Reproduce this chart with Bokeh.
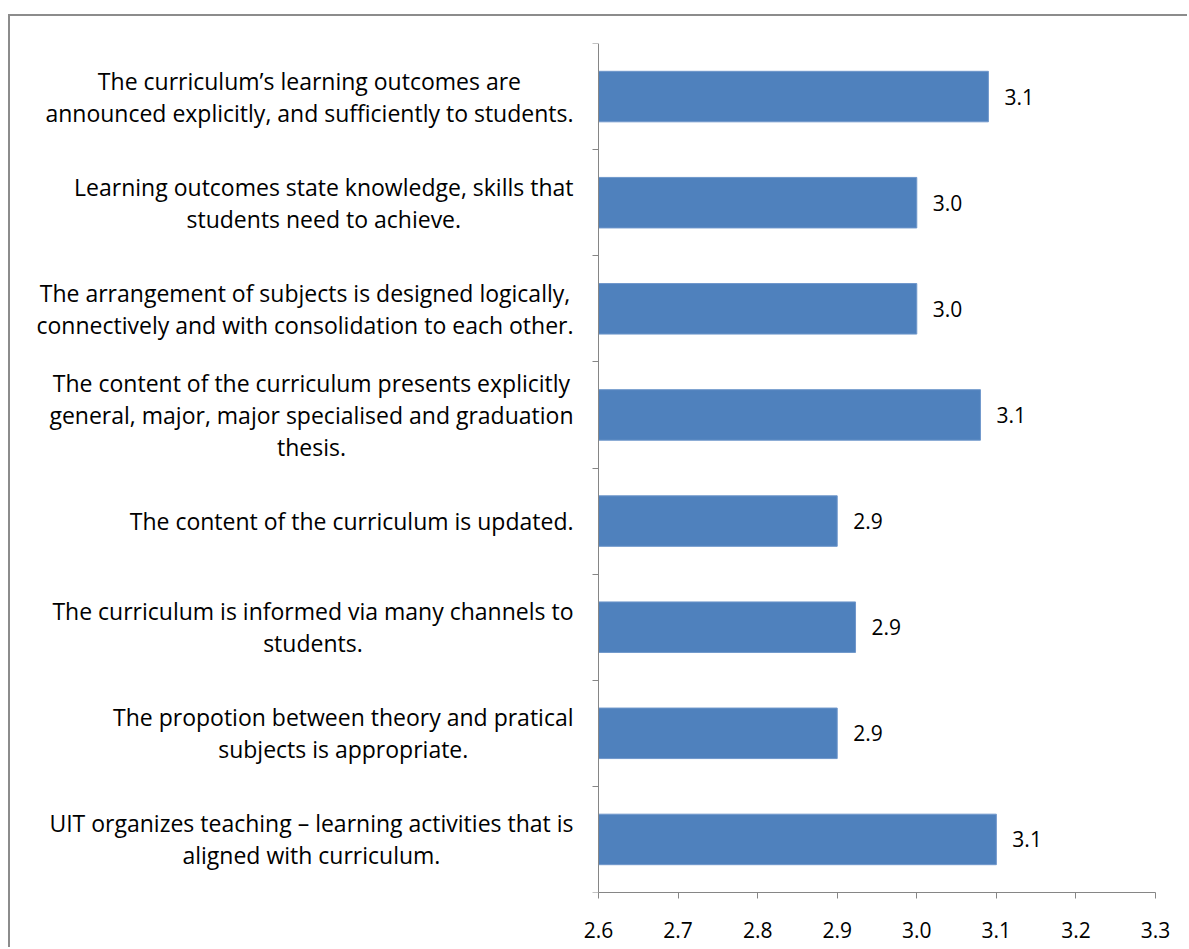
from bokeh.plotting import figure
from bokeh.models import Range1d, FixedTicker, ColumnDataSource, NumeralTickFormatter, LinearAxis
from bokeh.core.properties import value
from bokeh.embed import file_html
from bokeh.resources import INLINE

categories = [
    "The curriculum\u2019s learning outcomes are\nannounced explicitly, and sufficiently to students.",
    "Learning outcomes state knowledge, skills that\nstudents need to achieve.",
    "The arrangement of subjects is designed logically,\nconnectively and with consolidation to each other.",
    "The content of the curriculum presents explicitly\ngeneral, major, major specialised and graduation\nthesis.",
    "The content of the curriculum is updated.",
    "The curriculum is informed via many channels to\nstudents.",
    "The propotion between theory and pratical\nsubjects is appropriate.",
    "UIT organizes teaching \u2013 learning activities that is\naligned with curriculum.",
]
scores = [3.09, 3.00, 3.00, 3.08, 2.90, 2.923, 2.90, 3.10]
x_ticks = [2.6, 2.7, 2.8, 2.9, 3.0, 3.1, 3.2, 3.3]

FONT = "Open Sans"
BAR = "#4F81BD"
AXIS = "#868686"

# layout (pixels)
W, H = 1179, 933
MB_LEFT, MB_RIGHT, MB_TOP, MB_BOTTOM = 16, 34, 27, 57
frame_w = W - MB_LEFT - MB_RIGHT
axis_px = 557  # pixel span of the value axis (2.6 .. 3.3)
x_start = x_ticks[-1] - (x_ticks[-1] - x_ticks[0]) * frame_w / axis_px

n = len(categories)
ypos = [i + 0.5 for i in range(n)]
src = ColumnDataSource(dict(
    y=ypos,
    v=scores,
    left=[x_ticks[0]] * n,
    lab=[f"{s:.1f}" for s in scores],
))
csrc = ColumnDataSource(dict(y=ypos, x=[x_ticks[0]] * n, t=categories))

p = figure(
    width=W, height=H,
    x_range=Range1d(x_start, x_ticks[-1]),
    y_range=Range1d(n, 0),
    output_backend="svg", toolbar_location=None,
    x_axis_location=None, y_axis_location=None,
    min_border_left=MB_LEFT, min_border_right=MB_RIGHT,
    min_border_top=MB_TOP, min_border_bottom=MB_BOTTOM,
)
p.styles = {"border-left": "2px solid #8c8c8c", "border-top": "2px solid #8c8c8c",
            "margin-top": "14px", "margin-left": "8px"}
p.outline_line_color = None
p.xgrid.visible = False
p.ygrid.visible = False

p.hbar(y="y", left="left", right="v", height=0.476, source=src,
       fill_color=BAR, line_color="#6f97cb", line_width=1)

p.text(x="v", y="y", text="lab", source=src, x_offset=16,
       text_baseline="middle", text_align="left",
       text_font=value(FONT), text_font_size="21px", text_color="#000000")

try:
    p.text(x="x", y="y", text="t", source=csrc, x_offset=-25,
           anchor="center_right", text_align="center", text_baseline="middle",
           text_font=value(FONT), text_font_size="23px", text_color="#000000",
           text_line_height=1.0)
except Exception:
    p.text(x="x", y="y", text="t", source=csrc, x_offset=-25,
           text_align="right", text_baseline="middle",
           text_font=value(FONT), text_font_size="23px", text_color="#000000",
           text_line_height=1.0)

# value axis
xa = LinearAxis(ticker=FixedTicker(ticks=x_ticks),
                formatter=NumeralTickFormatter(format="0.0"),
                bounds=(x_ticks[0], x_ticks[-1]))
xa.axis_line_color = AXIS
xa.major_tick_line_color = AXIS
xa.major_tick_in = 0
xa.major_tick_out = 6
xa.minor_tick_line_color = None
xa.major_label_text_font = FONT
xa.major_label_text_font_size = "21px"
xa.major_label_text_color = "#000000"
xa.major_label_standoff = 23
p.add_layout(xa, "below")

# category axis (ticks between categories), placed at 2.6
ya = LinearAxis(ticker=FixedTicker(ticks=list(range(n + 1))),
                fixed_location=x_ticks[0])
ya.axis_line_color = AXIS
ya.major_tick_line_color = AXIS
ya.major_tick_in = 0
ya.major_tick_out = 6
ya.minor_tick_line_color = None
ya.major_label_text_font_size = "0px"
ya.major_label_text_color = None
ya.major_label_standoff = 0
p.add_layout(ya, "left")

open("out.html", "w").write(file_html(p, INLINE))
